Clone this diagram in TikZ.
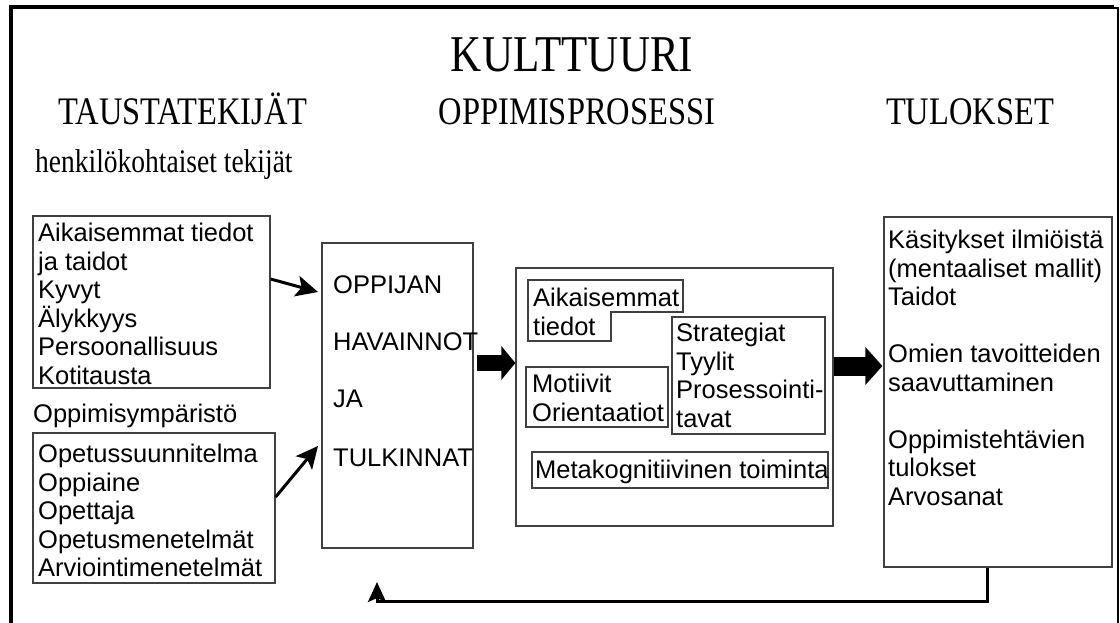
\documentclass[tikz,border=0pt]{standalone}
\usepackage{fontspec}
\setmainfont{Liberation Serif}
\newfontfamily\arialf{Liberation Sans}
\usetikzlibrary{arrows.meta,calc}
\newcommand{\tallx}[1]{\scalebox{1}[1.2]{#1}}
\begin{document}
\begin{tikzpicture}[x=1pt,y=-1pt,
  box/.style={draw=black!75,line width=1.2pt,inner sep=0pt},
  txt/.style={anchor=north west,inner sep=0pt,align=left,font=\arialf\fontsize{25.5}{28.5}\selectfont},
  head/.style={anchor=base,inner sep=0pt,font=\fontsize{32.5}{36}\selectfont},
  thinarrow/.style={line width=3pt,-{Stealth[length=22pt,width=21pt,inset=5pt]}},
  fatarrowA/.style={line width=16pt,-{Triangle[length=14pt,width=33pt]}},
  fatarrowB/.style={line width=19pt,-{Triangle[length=17pt,width=37pt]}},
  backarrow/.style={line width=3pt,-{Stealth[length=20pt,width=18pt,inset=4pt]}}]
\useasboundingbox (0,0) rectangle (1120,623);
% outer frame
\draw[line width=4pt] (10.5,623) -- (10.5,7.5) -- (1114,7.5);
\draw[line width=1.5pt] (1113,8) -- (1118,8) -- (1118,623);
% headings
\node[head,font=\fontsize{43}{48}\selectfont] (kult) at (572,72) {\tallx{KULTTUURI}};
\node[head] (tausta) at (183,125) {\tallx{TAUSTATEKIJÄT}};
\node[head] (opp) at (577,125) {\tallx{OPPIMISPROSESSI}};
\node[head] (tul) at (970,125) {\tallx{TULOKSET}};
\node[anchor=base west,inner sep=0pt,font=\fontsize{27.5}{30}\selectfont] (henk) at (35,173) {\tallx{henkilökohtaiset tekijät}};
% boxes
\node[box,minimum width=237pt,minimum height=172pt] (bg1) at (151.5,302) {};
\node[txt] (bg1t) at (38,221.5) {\strut Aikaisemmat tiedot\\ja taidot\\Kyvyt\\Älykkyys\\Persoonallisuus\\Kotitausta};
\node[txt,anchor=north west] (ymp) at (33,402.5) {\strut Oppimisympäristö};
\node[box,minimum width=242pt,minimum height=150pt] (bg2) at (154,508) {};
\node[txt] (bg2t) at (38,442.5) {\strut Opetussuunnitelma\\Oppiaine\\Opettaja\\Opetusmenetelmät\\Arviointimenetelmät};
\node[box,minimum width=151pt,minimum height=305pt] (oppijan) at (397.5,395.5) {};
\node[txt] (oppijant) at (333,273.5) {\strut OPPIJAN\\[28pt]HAVAINNOT\\[28.5pt]JA\\[31pt]TULKINNAT};
\node[box,minimum width=317pt,minimum height=258pt] (proc) at (674.5,397) {};
\draw[draw=black!75,line width=1.2pt] (528,280) -- (683,280) -- (683,312) -- (611,312) -- (611,341) -- (528,341) -- cycle;
\node[txt] (aikt) at (533,286.5) {\strut Aikaisemmat\\tiedot};
\node[box,minimum width=142pt,minimum height=60pt] (mot) at (597,397) {};
\node[txt] (mott) at (532,372.5) {\strut Motiivit\\Orientaatiot};
\node[box,minimum width=153pt,minimum height=117pt] (strat) at (748.5,375.5) {};
\node[txt] (stratt) at (676,321.5) {\strut Strategiat\\Tyylit\\Prosessointi-\\tavat};
\node[box,minimum width=296pt,minimum height=36pt] (meta) at (680,470) {};
\node[txt] (metat) at (535,458.5) {\strut Metakognitiivinen toiminta};
\node[box,minimum width=228pt,minimum height=350pt] (res) at (998,392) {};
\node[txt] (rest) at (888,228.5) {\strut Käsitykset ilmiöistä\\(mentaaliset mallit)\\Taidot\\[28.5pt]Omien tavoitteiden\\saavuttaminen\\[28.5pt]Oppimistehtävien\\tulokset\\Arvosanat};
% connectors
\coordinate (t1) at (318,292);
\coordinate (t2) at (318,446);
\coordinate (s1) at (0,279);
\coordinate (s2) at (0,497);
\draw[thinarrow] (bg1.east |- s1) -- (t1);
\draw[thinarrow] (bg2.east |- s2) -- (t2);
\coordinate (f1) at (0,363);
\coordinate (f2) at (0,366);
\draw[fatarrowA,shorten <=3pt] (oppijan.east |- f1) -- (proc.west |- f1);
\draw[fatarrowB,shorten >=1pt] (proc.east |- f2) -- (res.west |- f2);
\coordinate (fb) at (377,582);
\coordinate (c1) at (987,601);
\draw[backarrow] (res.south -| c1) -- (c1) -| (fb);
\end{tikzpicture}
\end{document}
